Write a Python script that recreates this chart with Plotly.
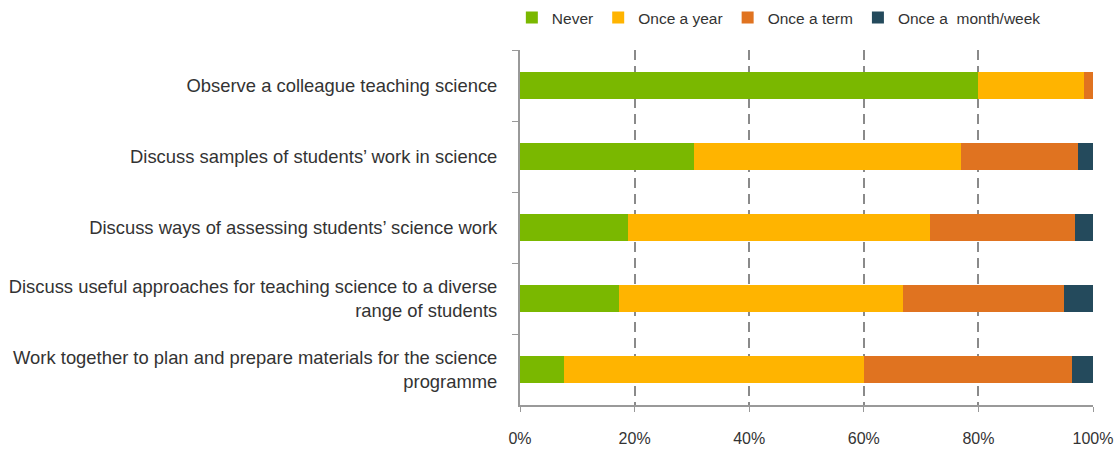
import plotly.graph_objects as go

categories = [
    "Observe a colleague teaching science",
    "Discuss samples of students’ work in science",
    "Discuss ways of assessing students’ science work",
    "Discuss useful approaches for teaching science to a diverse<br>range of students",
    "Work together to plan and prepare materials for the science<br>programme",
]
series_names = ["Never", "Once a year", "Once a term", "Once a\u00a0 month/week"]
never = [80.0, 30.3, 18.9, 17.3, 7.7]
once_year = [18.4, 46.7, 52.7, 49.5, 52.4]
once_term = [1.6, 20.3, 25.2, 28.2, 36.2]
once_month = [0.0, 2.7, 3.2, 5.0, 3.7]
colors = ["#7AB800", "#FFB400", "#E07320", "#244A5C"]
x_tick_vals = [0, 20, 40, 60, 80, 100]
x_tick_text = ["0%", "20%", "40%", "60%", "80%", "100%"]

fig = go.Figure()
for name, vals, col in zip(series_names, [never, once_year, once_term, once_month], colors):
    fig.add_trace(go.Bar(
        y=categories, x=vals, name=name, orientation="h",
        marker=dict(color=col, line=dict(width=0)),
    ))

fig.update_layout(
    barmode="stack",
    bargap=0.61,
    width=1120, height=450,
    margin=dict(l=520, r=27, t=50, b=45),
    plot_bgcolor="white", paper_bgcolor="white",
    font=dict(family="Liberation Sans, Arial, sans-serif", size=18.4, color="#333333"),
    legend=dict(
        orientation="h", xref="container", yref="container",
        x=0.457, xanchor="left", y=0.998, yanchor="top",
        font=dict(size=15.5, color="#333333"), traceorder="normal",
        bgcolor="rgba(0,0,0,0)",
    ),
    showlegend=True,
)
fig.update_xaxes(
    range=[0, 100], tickvals=x_tick_vals, ticktext=x_tick_text,
    tickfont=dict(size=16),
    showgrid=True, gridcolor="#8a8a8a", griddash="10px,6px", gridwidth=1.5,
    showline=True, linecolor="#999999", linewidth=2,
    ticks="outside", ticklen=5, tickcolor="#999999", tickwidth=1,
    zeroline=False, ticklabelstandoff=13, automargin=False,
)
fig.update_yaxes(
    categoryorder="array", categoryarray=categories, autorange="reversed",
    showline=True, linecolor="#999999", linewidth=2,
    ticks="outside", ticklen=6, tickcolor="#999999", tickwidth=1,
    tickson="boundaries", showgrid=False, ticklabelstandoff=17, automargin=False,
)

fig.write_html(
    "out.html",
    config={"displayModeBar": False},
    post_script="document.body.style.margin='0';document.body.style.padding='0';",
)
